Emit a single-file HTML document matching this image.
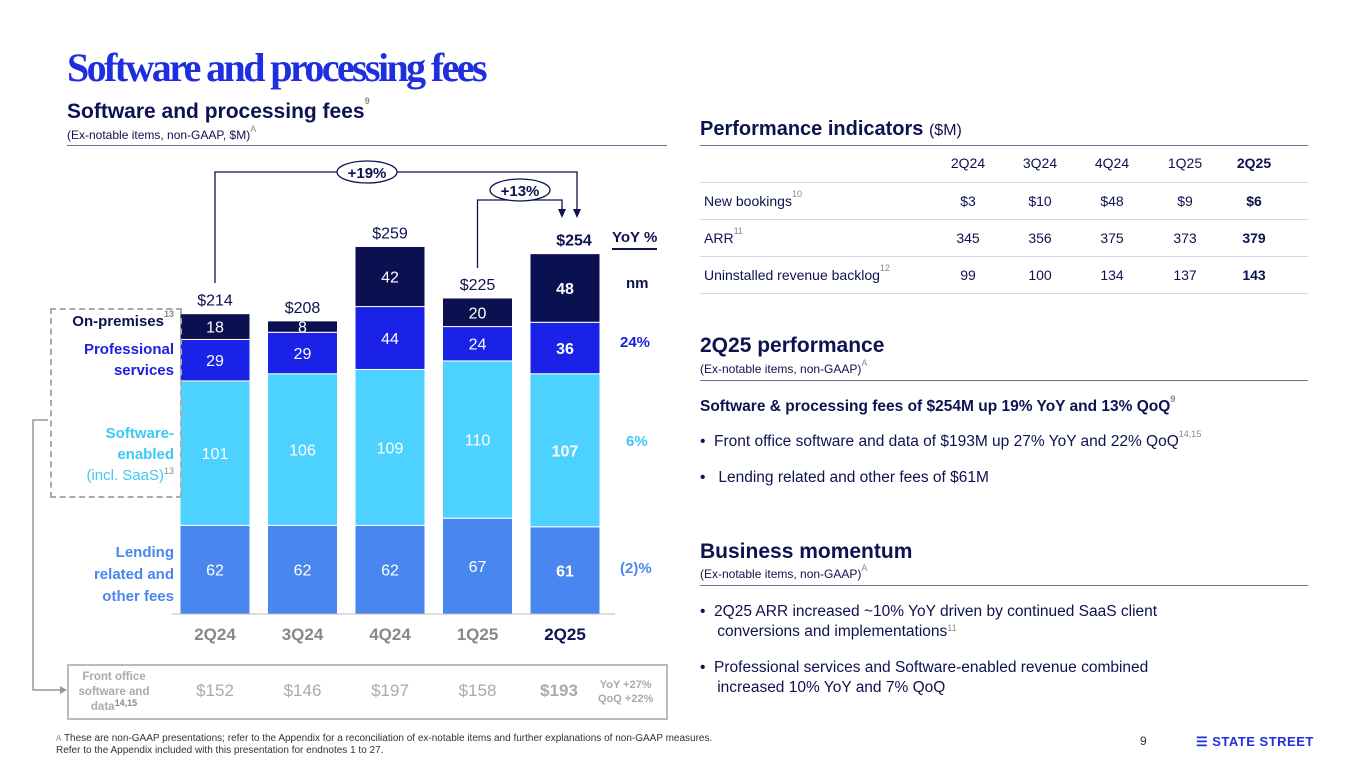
<!DOCTYPE html>
<html><head><meta charset="utf-8">
<style>
body{margin:0;width:1365px;height:768px;background:#fff;position:relative;overflow:hidden;font-family:"Liberation Sans",sans-serif;color:#0d1250}
.a{position:absolute;white-space:nowrap}
sup{font-size:9px;color:#888;vertical-align:top;position:relative;top:-4px}
.b{font-weight:bold}
</style></head><body>
<div class="a" style="left:67px;top:44px;font-family:'Liberation Serif',serif;font-weight:bold;font-size:40px;color:#1f2fe0;letter-spacing:-2.6px">Software and processing fees</div>
<div class="a b" style="left:67px;top:100px;font-size:21px">Software and processing fees<sup>9</sup></div>
<div class="a" style="left:67px;top:128px;font-size:12px">(Ex-notable items, non-GAAP, $M)<sup>A</sup></div>
<div class="a" style="left:67px;top:145px;width:600px;height:1px;background:#6b7090"></div>

<svg id="chart" class="a" style="left:0;top:0" width="700" height="768"></svg>

<div class="a b" style="left:0;top:313px;width:174px;text-align:right;font-size:15px;color:#0d1250">On-premises<sup>13</sup></div>
<div class="a b" style="left:0;top:339px;width:174px;text-align:right;font-size:15px;color:#1a22e0;line-height:21px">Professional<br>services</div>
<div class="a" style="left:0;top:423px;width:174px;text-align:right;font-size:15px;color:#3ec8f5;line-height:21px"><b>Software-<br>enabled</b><br>(incl. SaaS)<sup>13</sup></div>
<div class="a b" style="left:0;top:542px;width:174px;text-align:right;font-size:15px;color:#4a86f0;line-height:22px">Lending<br>related and<br>other fees</div>
<div class="a" style="left:50px;top:308px;width:128px;height:186px;border:2px dashed #aaa"></div>

<div class="a b" style="left:612px;top:229px;font-size:15px;border-bottom:2px solid #0d1250;padding-bottom:2px">YoY %</div>
<div class="a b" style="left:626px;top:275px;font-size:15px">nm</div>
<div class="a b" style="left:620px;top:334px;font-size:15px;color:#1a22e0">24%</div>
<div class="a b" style="left:626px;top:433px;font-size:15px;color:#3ec8f5">6%</div>
<div class="a b" style="left:620px;top:560px;font-size:15px;color:#4a86f0">(2)%</div>

<div class="a" style="left:67px;top:664px;width:597px;height:52px;border:2px solid #bbb"></div>
<div class="a b" style="left:70px;top:670px;width:88px;text-align:center;font-size:11.5px;color:#aaa;line-height:15px">Front office<br>software and<br>data<sup>14,15</sup></div>
<div class="a b" style="left:598px;top:678px;font-size:11px;color:#aaa;line-height:14px;text-align:center">YoY +27%<br>QoQ +22%</div>

<div class="a" style="left:56px;top:733px;font-size:10px;color:#333;line-height:12px"><sup style="top:0;font-size:8px">A</sup> These are non-GAAP presentations; refer to the Appendix for a reconciliation of ex-notable items and further explanations of non-GAAP measures.<br>Refer to the Appendix included with this presentation for endnotes 1 to 27.</div>
<div class="a" style="left:1140px;top:734px;font-size:12px;color:#333">9</div>
<div class="a b" style="left:1196px;top:734px;font-size:13px;color:#1f2fe0;letter-spacing:0.5px">☰ STATE STREET</div>

<div class="a b" style="left:700px;top:118px;font-size:20px">Performance indicators <span style="font-weight:normal;font-size:16px">($M)</span></div>
<div class="a" style="left:700px;top:145px;width:608px;height:1px;background:#6b7090"></div>
<div id="tbl"></div>

<div class="a b" style="left:700px;top:334px;font-size:21px">2Q25 performance</div>
<div class="a" style="left:700px;top:362px;font-size:12px">(Ex-notable items, non-GAAP)<sup>A</sup></div>
<div class="a" style="left:700px;top:380px;width:608px;height:1px;background:#6b7090"></div>
<div class="a b" style="left:700px;top:398px;font-size:15.5px">Software &amp; processing fees of $254M up 19% YoY and 13% QoQ<sup>9</sup></div>
<div class="a" style="left:700px;top:433px;font-size:15.5px">•&nbsp; Front office software and data of $193M up 27% YoY and 22% QoQ<sup>14,15</sup></div>
<div class="a" style="left:700px;top:469px;font-size:15.5px">•&nbsp;&nbsp; Lending related and other fees of $61M</div>

<div class="a b" style="left:700px;top:540px;font-size:21px">Business momentum</div>
<div class="a" style="left:700px;top:567px;font-size:12px">(Ex-notable items, non-GAAP)<sup>A</sup></div>
<div class="a" style="left:700px;top:585px;width:608px;height:1px;background:#6b7090"></div>
<div class="a" style="left:700px;top:602px;font-size:15.5px;line-height:20px">•&nbsp; 2Q25 ARR increased ~10% YoY driven by continued SaaS client<br>&nbsp;&nbsp;&nbsp; conversions and implementations<sup>11</sup></div>
<div class="a" style="left:700px;top:658px;font-size:15.5px;line-height:20px">•&nbsp; Professional services and Software-enabled revenue combined<br>&nbsp;&nbsp;&nbsp; increased 10% YoY and 7% QoQ</div>

<script>
const quarters=["2Q24","3Q24","4Q24","1Q25","2Q25"];
const lending=[62,62,62,67,61];
const software=[101,106,109,110,107];
const professional=[29,29,44,24,36];
const onprem=[18,8,42,20,48];
const totals=["$214","$208","$259","$225","$254"];
const frontOffice=["$152","$146","$197","$158","$193"];
const tblCols=["2Q24","3Q24","4Q24","1Q25","2Q25"];
const bookings=["$3","$10","$48","$9","$6"];
const arr=["345","356","375","373","379"];
const backlog=["99","100","134","137","143"];

const NS="http://www.w3.org/2000/svg";
const svg=document.getElementById('chart');
const base=614, k=1.43, bw=70;
const xc=i=>215+i*87.5;
const y=v=>base-v*k;
function el(t,a){const e=document.createElementNS(NS,t);for(const n in a)e.setAttribute(n,a[n]);svg.appendChild(e);return e;}
function txt(s,x,yy,a){const e=el('text',Object.assign({x:x,y:yy,'text-anchor':'middle','font-family':'Liberation Sans, sans-serif'},a));e.textContent=s;return e;}
const series=[[lending,'#4a86f0','lending'],[software,'#4dd2ff','software-enabled'],[professional,'#1a22e8','professional-services'],[onprem,'#0b1150','on-premises']];
quarters.forEach((q,i)=>{
  let cum=0;const last=i===4;
  series.forEach(([arrS,col,nm])=>{
    const v=arrS[i];
    const r=el('rect',{x:xc(i)-bw/2,y:y(cum+v),width:bw,height:v*k,fill:col,stroke:'#fff','stroke-width':1});
    
    
    const t=txt(String(v),xc(i),y(cum+v/2)+6,{fill:'#fff','font-size':16,'font-weight':last?'bold':'normal'});
    
    
    cum+=v;
  });
  const tt=txt(totals[i],xc(i)+(last?9:0),y(cum)-8,{fill:'#0d1250','font-size':16,'font-weight':last?'bold':'normal'});
  
  
  const xl=txt(q,xc(i),640,{fill:last?'#0d1250':'#888','font-size':17,'font-weight':'bold'});
  
  
  const fo=txt(frontOffice[i],xc(i)+(last?-6:0),696,{fill:'#aaa','font-size':17,'font-weight':last?'bold':'normal'});
  
  
});
const ax=el('line',{x1:172,y1:base,x2:615,y2:base,stroke:'#bbb','stroke-width':1});


const yoyX=xc(4)+12, qoqX=xc(4)-3;
const p1=el('path',{d:`M${xc(0)} 283 V172 H${yoyX} V212`,fill:'none',stroke:'#0d1250','stroke-width':1.3});


const p2=el('path',{d:`M${xc(3)} 268 V200 H${qoqX} V212`,fill:'none',stroke:'#0d1250','stroke-width':1.3});


[yoyX,qoqX].forEach(x=>{const a=el('path',{d:`M${x-4} 209 L${x+4} 209 L${x} 218Z`,fill:'#0d1250'});});
const e1=el('ellipse',{cx:367,cy:172,rx:30,ry:11,fill:'#fff',stroke:'#0d1250','stroke-width':1.3});


txt('+19%',367,178,{fill:'#0d1250','font-size':15,'font-weight':'bold'});
const e2=el('ellipse',{cx:520,cy:190,rx:30,ry:11,fill:'#fff',stroke:'#0d1250','stroke-width':1.3});


txt('+13%',520,196,{fill:'#0d1250','font-size':15,'font-weight':'bold'});
const fc=el('path',{d:'M48 420 H33 V690 H62',fill:'none',stroke:'#999','stroke-width':1.5});


el('path',{d:'M60 686 L67 690 L60 694Z',fill:'#999'});

const tbl=document.getElementById('tbl');
const colX=[968,1040,1112,1185,1254];
function div(html,st,name){const d=document.createElement('div');d.className='a';d.style.cssText=st;d.innerHTML=html;tbl.appendChild(d);return d;}
tblCols.forEach((c,i)=>div(c,`left:${colX[i]-30}px;top:155px;width:60px;text-align:center;font-size:14px;${i==4?'font-weight:bold':''}`,'col-'+c));
const rows=[["New bookings<sup>10</sup>",bookings],["ARR<sup>11</sup>",arr],["Uninstalled revenue backlog<sup>12</sup>",backlog]];
rows.forEach(([lab,vals],r)=>{
  const ty=193+r*37;
  div(lab,`left:704px;top:${ty}px;font-size:14px`,'row-label');
  vals.forEach((v,i)=>div(v,`left:${colX[i]-30}px;top:${ty}px;width:60px;text-align:center;font-size:14px;${i==4?'font-weight:bold':''}`,'cell'));
});
[182,219,256,293].forEach(yy=>div('',`left:700px;top:${yy}px;width:608px;height:1px;background:#cfd8f0`,'row-rule'));
</script>
</body></html>
